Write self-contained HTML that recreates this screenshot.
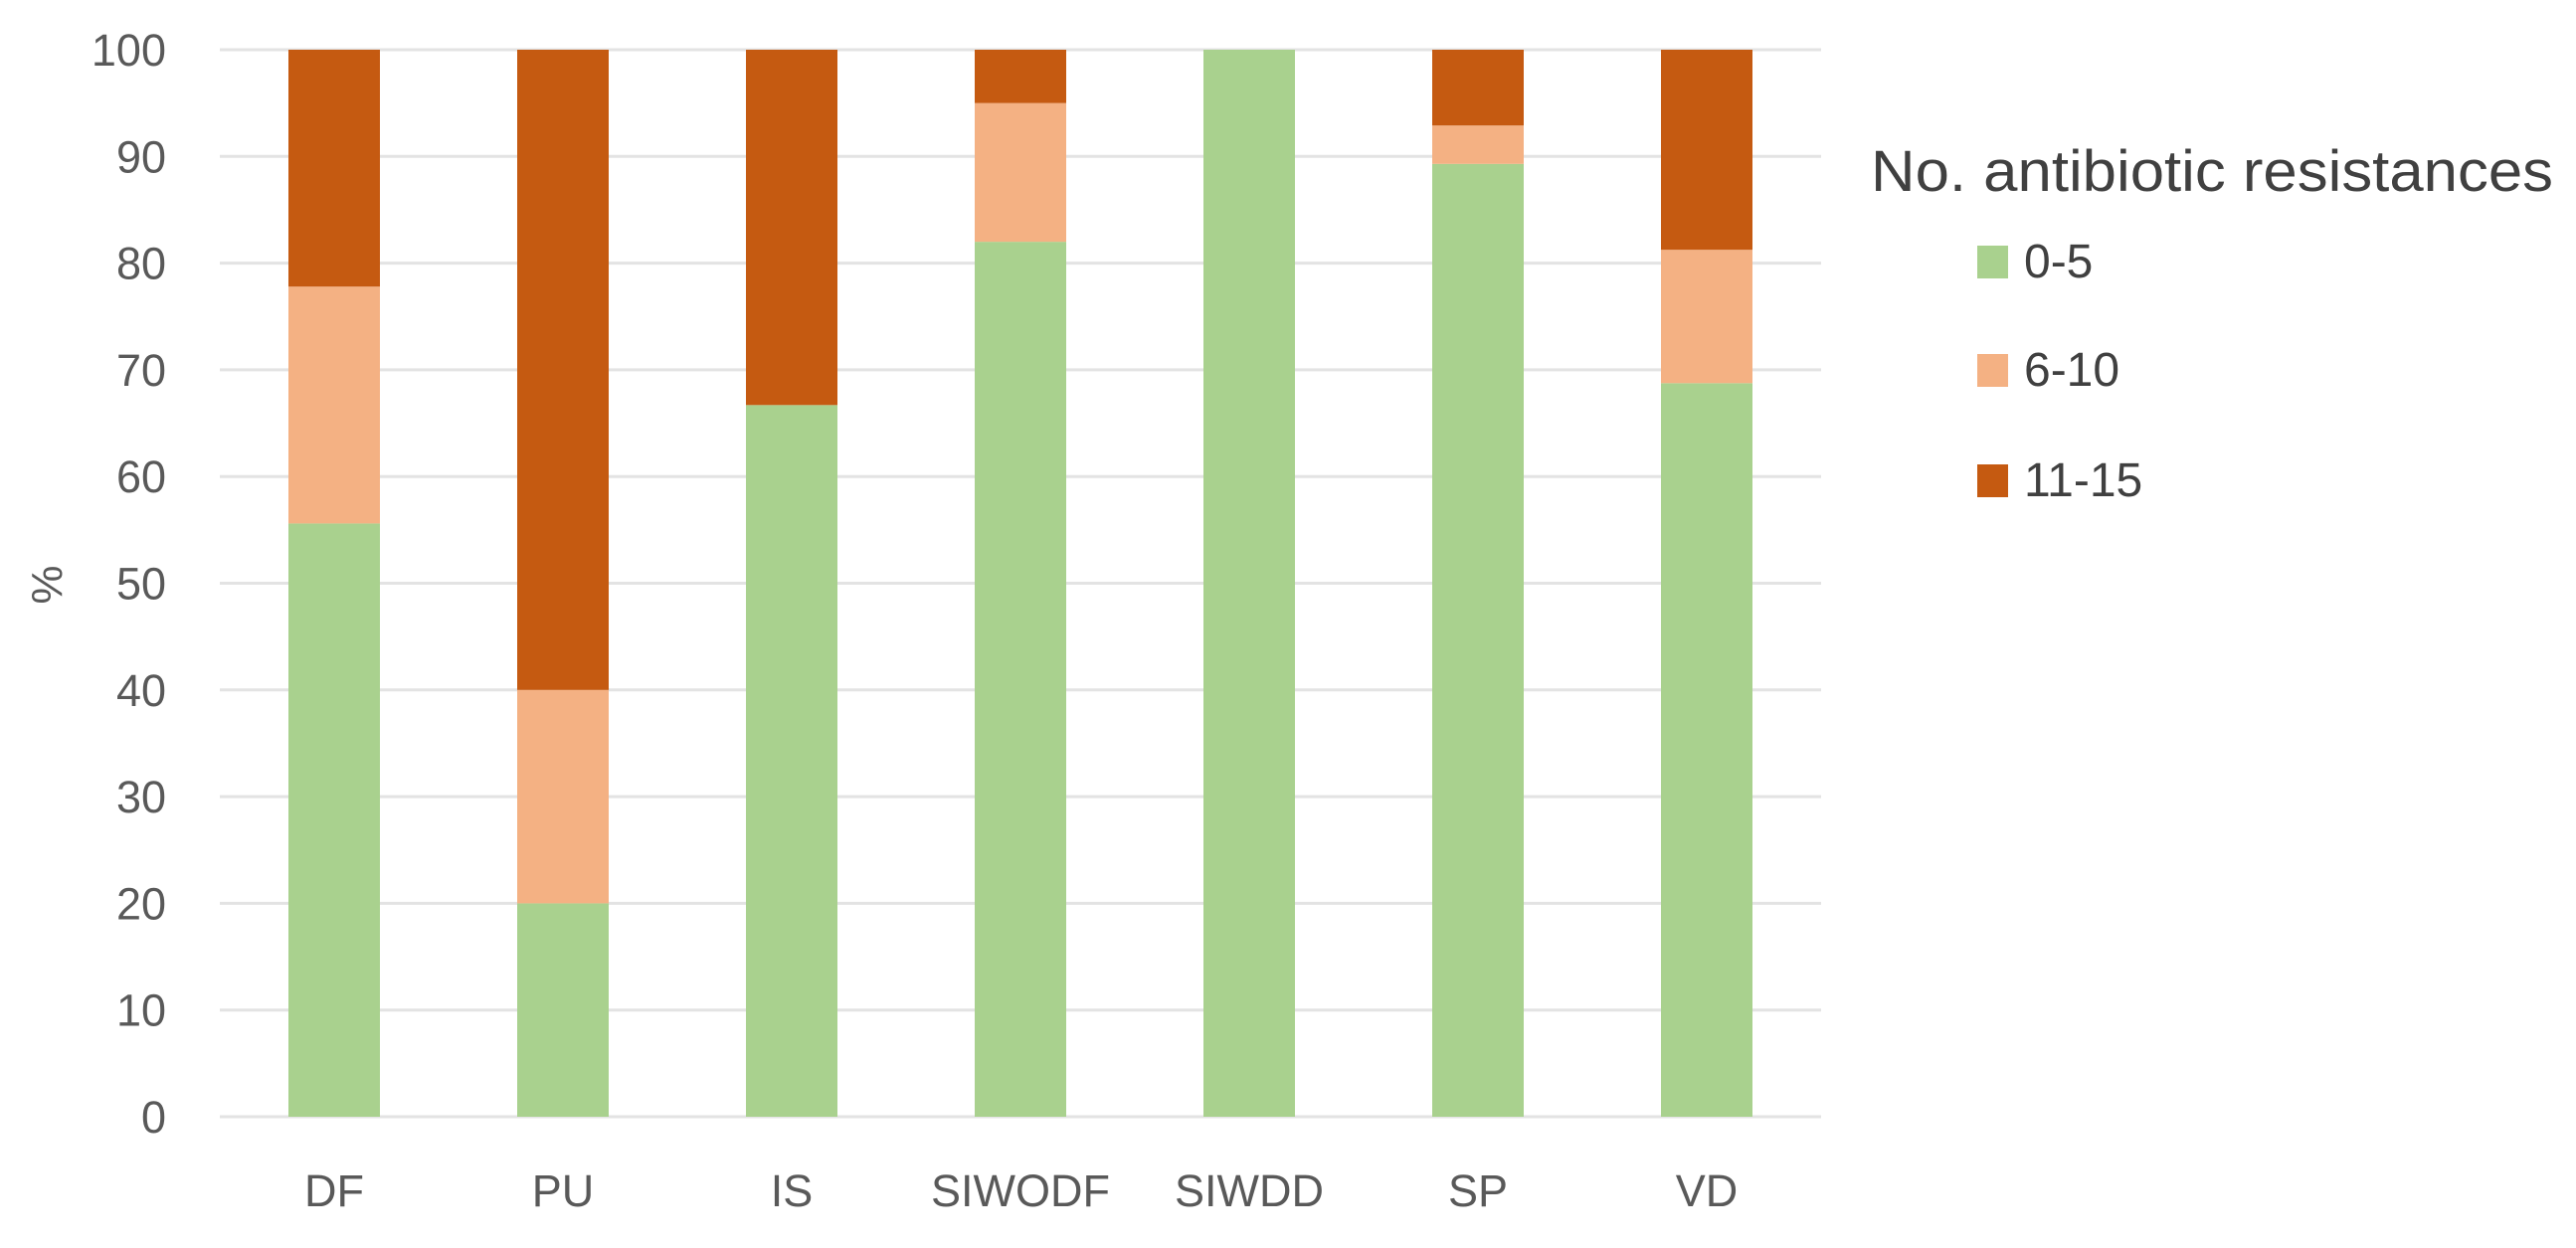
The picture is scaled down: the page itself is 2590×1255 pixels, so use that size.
<!DOCTYPE html>
<html><head><meta charset="utf-8"><style>
html,body{margin:0;padding:0;background:#fff;}
svg{display:block;font-family:"Liberation Sans",Calibri,sans-serif;}
</style></head><body>
<svg id="chart" width="2590" height="1255" viewBox="0 0 2590 1255" xmlns="http://www.w3.org/2000/svg">
<g id="grid"></g>
<g id="yticks"></g>
<g id="bars"></g>
<g id="xticks"></g>
<text x="0" y="0" transform="translate(62,588) rotate(-90)" text-anchor="middle" font-size="44" fill="#595959">%</text>
<g>
<text x="1881" y="192" font-size="58" fill="#404040" textLength="686" lengthAdjust="spacingAndGlyphs">No. antibiotic resistances</text>
<g id="legendItems"></g>
</g>
</svg>
<script>
const categories = ["DF","PU","IS","SIWODF","SIWDD","SP","VD"];
const seriesNames = ["0-5","6-10","11-15"];
const s0to5 = [55.6,20,66.7,82,100,89.3,68.75];
const s6to10 = [22.2,20,0,13,0,3.6,12.5];
const s11to15 = [22.2,60,33.3,5,0,7.1,18.75];
const yTicks = [0,10,20,30,40,50,60,70,80,90,100];
const colors = ["#A9D18E","#F4B183","#C55A11"];

const NS="http://www.w3.org/2000/svg";
const plotL=221, plotR=1831, y0=1123, y100=50;
const band=(plotR-plotL)/categories.length, barW=92;
function yScale(v){return y0-(v/100)*(y0-y100);}
function xCenter(i){return plotL+band*(i+0.5);}
function mk(tag,attrs,parent){const e=document.createElementNS(NS,tag);for(const k in attrs)e.setAttribute(k,attrs[k]);parent.appendChild(e);return e;}

const grid=document.getElementById('grid'), yt=document.getElementById('yticks');
yTicks.forEach(t=>{
  const l=mk('line',{x1:plotL,x2:plotR,y1:yScale(t),y2:yScale(t),stroke:'#e3e3e3','stroke-width':3},grid);
  
  
  const tx=mk('text',{x:167,y:yScale(t)+16,'text-anchor':'end','font-size':45,fill:'#595959'},yt);
  tx.textContent=t;
  
  
});

const bars=document.getElementById('bars'), xt=document.getElementById('xticks');
const series=[s0to5,s6to10,s11to15];
categories.forEach((c,i)=>{
  let base=0;
  series.forEach((s,k)=>{
    const v=s[i];
    if(v>0){
      const r=mk('rect',{x:xCenter(i)-barW/2,y:yScale(base+v),width:barW,height:yScale(base)-yScale(base+v),fill:colors[k]},bars);
      
      
    }
    base+=v;
  });
  const tx=mk('text',{x:xCenter(i),y:1213,'text-anchor':'middle','font-size':45,fill:'#595959'},xt);
  tx.textContent=c;
  
  
});

const li=document.getElementById('legendItems');
const legY=[247,356,467];
seriesNames.forEach((n,k)=>{
  const g=mk('g',{},li);
  
  
  mk('rect',{x:1988,y:legY[k],width:31,height:33,fill:colors[k]},g);
  const t=mk('text',{x:2035,y:legY[k]+32,'font-size':48,fill:'#404040'},g);
  t.textContent=n;
});
</script>
</body></html>
